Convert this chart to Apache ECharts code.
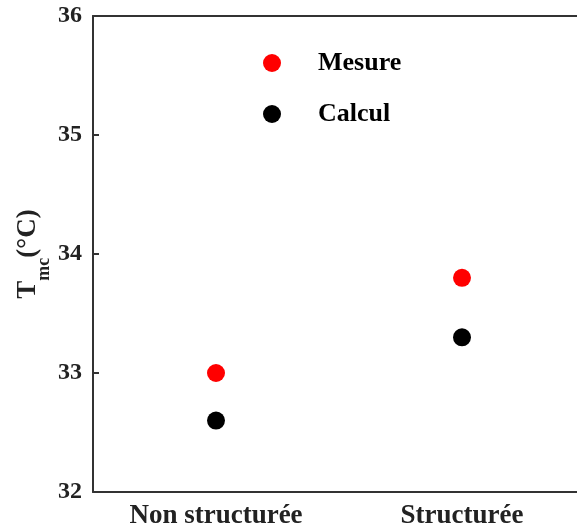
<!DOCTYPE html>
<html><head><meta charset="utf-8">
<script src="https://cdn.jsdelivr.net/npm/echarts@6/dist/echarts.min.js"></script>
<style>html,body{margin:0;padding:0;background:#fff}#c{width:577px;height:531px}</style>
</head><body><div id="c"></div>
<script>
const categories = ['Non structurée', 'Structurée'];
const mesure = [33.0, 33.8];
const calcul = [32.6, 33.3];
const yTicks = [32, 33, 34, 35, 36];

const FONT = '"Liberation Serif","Times New Roman",serif';
const chart = echarts.init(document.getElementById('c'));
chart.setOption({
  animation: false,
  backgroundColor: '#fff',
  grid: {left: 93, top: 16, width: 492, height: 476, containLabel: false, outerBoundsMode: 'none'},
  legend: {
    orient: 'vertical', left: 258, top: 45, itemGap: 25,
    itemWidth: 18, itemHeight: 18, icon: 'circle',
    textStyle: {fontFamily: FONT, fontWeight: 'bold', fontSize: 26, lineHeight: 26, color: '#000', padding: [0, 0, 0, 32]},
    data: ['Mesure', 'Calcul']
  },
  xAxis: [{
    type: 'category', data: categories, boundaryGap: true,
    axisLine: {lineStyle: {color: '#333', width: 2}},
    axisTick: {inside: true, alignWithLabel: true, length: 6, lineStyle: {color: '#333', width: 2}},
    axisLabel: {fontFamily: FONT, fontWeight: 'bold', fontSize: 27, color: '#222', margin: 11},
    splitLine: {show: false}
  }, {
    type: 'category', data: categories, boundaryGap: true, position: 'top',
    axisLine: {lineStyle: {color: '#333', width: 2}},
    axisTick: {inside: true, alignWithLabel: true, length: 6, lineStyle: {color: '#333', width: 2}},
    axisLabel: {show: false}
  }],
  yAxis: {
    type: 'value', min: yTicks[0], max: yTicks[yTicks.length - 1], interval: 1,
    axisLine: {show: true, lineStyle: {color: '#333', width: 2}},
    axisTick: {show: true, inside: true, length: 6, lineStyle: {color: '#333', width: 2}},
    axisLabel: {fontFamily: FONT, fontWeight: 'bold', fontSize: 24, color: '#222', margin: 11},
    splitLine: {show: false},
    name: '{t|T}{s|mc}{t|(°C)}',
    nameLocation: 'middle', nameRotate: 90, nameGap: 51, nameMoveOverlap: false,
    nameTextStyle: {
      rich: {
        t: {fontFamily: FONT, fontWeight: 'bold', fontSize: 27, color: '#222', verticalAlign: 'bottom', lineHeight: 30},
        s: {fontFamily: FONT, fontWeight: 'bold', fontSize: 18, color: '#222', verticalAlign: 'bottom', lineHeight: 30, padding: [0, 0, -11, 0]}
      }
    }
  },
  series: [{
    name: 'Mesure', type: 'scatter', data: mesure, symbolSize: 18,
    itemStyle: {color: '#ff0000', opacity: 1}
  }, {
    name: 'Calcul', type: 'scatter', data: calcul, symbolSize: 18,
    itemStyle: {color: '#000000', opacity: 1}
  }]
});
</script></body></html>
